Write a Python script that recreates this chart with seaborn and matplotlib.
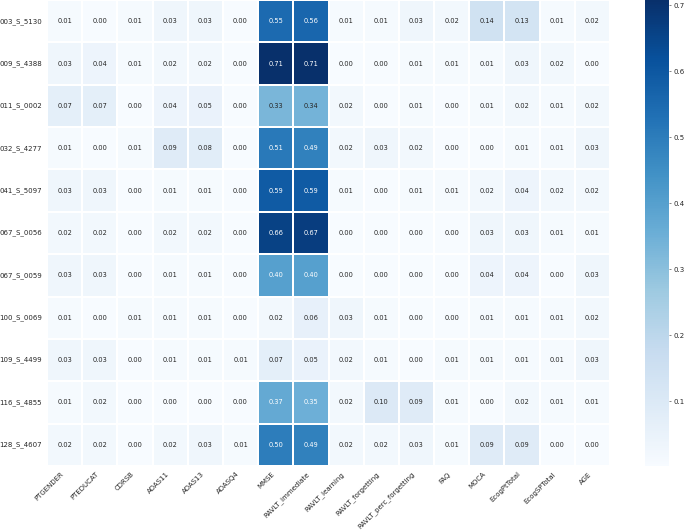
import numpy as np
import pandas as pd
import matplotlib
matplotlib.use("Agg")
import matplotlib.pyplot as plt
import seaborn as sns

features = ["PTGENDER", "PTEDUCAT", "CDRSB", "ADAS11", "ADAS13", "ADASQ4", "MMSE",
            "RAVLT_immediate", "RAVLT_learning", "RAVLT_forgetting",
            "RAVLT_perc_forgetting", "FAQ", "MOCA", "EcogPtTotal", "EcogSPTotal", "AGE"]
subjects = ["003_S_5130", "009_S_4388", "011_S_0002", "032_S_4277", "041_S_5097",
            "067_S_0056", "067_S_0059", "100_S_0069", "109_S_4499", "116_S_4855",
            "128_S_4607"]

s_003_S_5130 = [0.01, 0.00, 0.01, 0.03, 0.03, 0.00, 0.55, 0.56, 0.01, 0.01, 0.03, 0.02, 0.14, 0.13, 0.01, 0.02]
s_009_S_4388 = [0.03, 0.04, 0.01, 0.02, 0.02, 0.00, 0.708, 0.707, 0.00, 0.00, 0.01, 0.01, 0.01, 0.03, 0.02, 0.00]
s_011_S_0002 = [0.07, 0.07, 0.00, 0.04, 0.05, 0.00, 0.33, 0.34, 0.02, 0.00, 0.01, 0.00, 0.01, 0.02, 0.01, 0.02]
s_032_S_4277 = [0.01, 0.00, 0.01, 0.09, 0.08, 0.00, 0.51, 0.49, 0.02, 0.03, 0.02, 0.00, 0.00, 0.01, 0.01, 0.03]
s_041_S_5097 = [0.03, 0.03, 0.00, 0.01, 0.01, 0.00, 0.59, 0.59, 0.01, 0.00, 0.01, 0.01, 0.02, 0.04, 0.02, 0.02]
s_067_S_0056 = [0.02, 0.02, 0.00, 0.02, 0.02, 0.00, 0.66, 0.67, 0.00, 0.00, 0.00, 0.00, 0.03, 0.03, 0.01, 0.01]
s_067_S_0059 = [0.03, 0.03, 0.00, 0.01, 0.01, 0.00, 0.40, 0.40, 0.00, 0.00, 0.00, 0.00, 0.04, 0.04, 0.00, 0.03]
s_100_S_0069 = [0.01, 0.00, 0.01, 0.01, 0.01, 0.00, 0.02, 0.06, 0.03, 0.01, 0.00, 0.00, 0.01, 0.01, 0.01, 0.02]
s_109_S_4499 = [0.03, 0.03, 0.00, 0.01, 0.01, 0.01, 0.07, 0.05, 0.02, 0.01, 0.00, 0.01, 0.01, 0.01, 0.01, 0.03]
s_116_S_4855 = [0.01, 0.02, 0.00, 0.00, 0.00, 0.00, 0.37, 0.35, 0.02, 0.10, 0.09, 0.01, 0.00, 0.02, 0.01, 0.01]
s_128_S_4607 = [0.02, 0.02, 0.00, 0.02, 0.03, 0.01, 0.50, 0.49, 0.02, 0.02, 0.03, 0.01, 0.09, 0.09, 0.00, 0.00]

rows = [s_003_S_5130, s_009_S_4388, s_011_S_0002, s_032_S_4277, s_041_S_5097,
        s_067_S_0056, s_067_S_0059, s_100_S_0069, s_109_S_4499, s_116_S_4855,
        s_128_S_4607]
df = pd.DataFrame(rows, index=subjects, columns=features)

sns.set_style("white")
plt.rcParams['font.family'] = ['DejaVu Sans']

W, H = 685, 530
fig = plt.figure(figsize=(W / 50, H / 50), dpi=50)
ax = fig.add_axes([47 / W, 1 - 466 / H, (610 - 47) / W, 466 / H])
cax = fig.add_axes([645 / W, 1 - 466 / H, 24 / W, 466 / H])

sns.heatmap(df, ax=ax, cbar_ax=cax, cmap="Blues", annot=True, fmt=".2f",
            linewidths=0.5, linecolor="white", vmin=0.002, vmax=0.708,
            annot_kws={"fontsize": 9.5})
ax.set_xticklabels(ax.get_xticklabels(), rotation=45, ha="right", fontsize=10)
ax.set_yticklabels(ax.get_yticklabels(), rotation=0, fontsize=10)
ax.tick_params(axis="both", length=3.5)
cax.tick_params(labelsize=10, length=3.5)

fig.savefig("out.png", dpi=50)
